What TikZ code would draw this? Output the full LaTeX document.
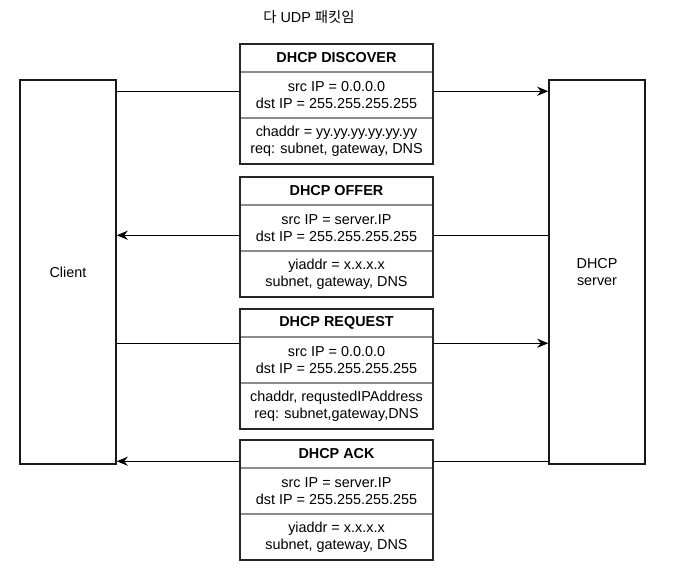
\documentclass[tikz,border=0pt]{standalone}
\usepackage{fontspec}
\setmainfont{Liberation Sans}
\newfontfamily\krfont{Noto Sans CJK KR}
\usetikzlibrary{arrows.meta}
\newcommand{\TextS}{\fontsize{14.4}{17}\selectfont}

\begin{document}
\begin{tikzpicture}[x=1pt,y=-1pt]
          \tikzstyle{host} = [draw=black!90, line width=1.5pt, fill=white, %text width=6em,
            minimum width=96pt, minimum height=384pt, align=center, font=\TextS]
          \tikzstyle{sect} = [draw=gray!90, line width=1.5pt, fill=white, minimum width=193pt,
            align=center, inner sep=0pt, outer sep=0pt, font=\TextS]
          \tikzstyle{head} = [sect, minimum height=28pt, font=\TextS\bfseries]
          \tikzstyle{body} = [sect, minimum height=46pt]
          \tikzstyle{frame} = [draw=black!85, line width=2.2pt]
          \tikzstyle{line} = [draw, -{Stealth[length=11pt,width=9pt,inset=3.5pt]}, line width=1.5pt]

          \useasboundingbox (0,0) rectangle (686,573);
          \node(Title)[font=\TextS] at (309,17) {{\krfont 다} UDP {\krfont 패킷임}};

          \node(Client)[host] at (68,272) {Client};
          \node(Server)[host] at (597,272) {DHCP\\server};

          \draw[line] ([yshift=-12pt]Client.north east) -- ([yshift=-12pt]Server.north west);
          \draw[line] ([yshift=-156pt]Server.north west) -- ([yshift=-156pt]Client.north east);
          \draw[line] ([yshift=-264pt]Client.north east) -- ([yshift=-264pt]Server.north west);
          \draw[line] ([yshift=-382pt]Server.north west) -- ([yshift=-382pt]Client.north east);

          % DISCOVER
          \tikzset{node distance = 37pt}
          \node(DiscoverHead)[head] at (336.5,58) {DHCP DISCOVER};
          \node(DiscoverIP)[body, below of = DiscoverHead]{src IP = 0.0.0.0\\dst IP = 255.255.255.255};
          \tikzset{node distance = 46pt}
          \node(DiscoverOpt)[body, below of = DiscoverIP]{chaddr = yy.yy.yy.yy.yy.yy\\req: subnet, gateway, DNS};
          \draw[frame] (DiscoverHead.north west) rectangle (DiscoverOpt.south east);

          % OFFER
          \tikzset{node distance = 37pt}
          \node(OfferHead)[head] at (336.5,191) {DHCP OFFER};
          \node(OfferIP)[body, below of = OfferHead]{src IP = server.IP\\dst IP = 255.255.255.255};
          \tikzset{node distance = 46pt}
          \node(OfferOpt)[body, below of = OfferIP]{yiaddr = x.x.x.x\\subnet, gateway, DNS};
          \draw[frame] (OfferHead.north west) rectangle (OfferOpt.south east);

          % REQUEST
          \tikzset{node distance = 37pt}
          \node(RequestHead)[head] at (336.5,323) {DHCP REQUEST};
          \node(RequestIP)[body, below of = RequestHead]{src IP = 0.0.0.0\\dst IP = 255.255.255.255};
          \tikzset{node distance = 46pt}
          \node(RequestOpt)[body, below of = RequestIP]{chaddr, requstedIPAddress\\req: subnet,gateway,DNS};
          \draw[frame] (RequestHead.north west) rectangle (RequestOpt.south east);

          % ACK
          \tikzset{node distance = 37pt}
          \node(AckHead)[head] at (336.5,454) {DHCP ACK};
          \node(AckIP)[body, below of = AckHead]{src IP = server.IP\\dst IP = 255.255.255.255};
          \tikzset{node distance = 46pt}
          \node(AckOpt)[body, below of = AckIP]{yiaddr = x.x.x.x\\subnet, gateway, DNS};
          \draw[frame] (AckHead.north west) rectangle (AckOpt.south east);
        \end{tikzpicture}
\end{document}
